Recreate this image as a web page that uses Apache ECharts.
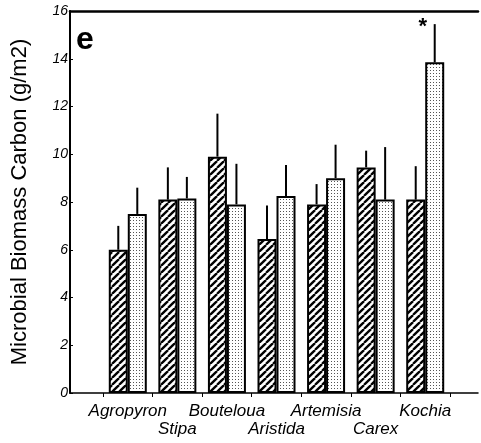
<!DOCTYPE html>
<html><head><meta charset="utf-8">
<script src="https://cdn.jsdelivr.net/npm/echarts@6/dist/echarts.min.js"></script>
<style>html,body{margin:0;padding:0;background:#fff}#c{width:481px;height:443px}</style>
</head><body><div id="c"></div>
<script>
const categories = ['Agropyron','Stipa','Bouteloua','Aristida','Artemisia','Carex','Kochia'];
const hatched    = [6.0, 8.1, 9.9, 6.45, 7.9, 9.45, 8.1];
const hatchedErr = [7.0, 9.45, 11.7, 7.85, 8.75, 10.15, 9.5];
const dotted     = [7.5, 8.15, 7.9, 8.25, 9.0, 8.1, 13.85];
const dottedErr  = [8.6, 9.05, 9.6, 9.55, 10.4, 10.3, 15.45];
const yTicks = {min: 0, max: 16, interval: 2};
const starMark = {series: 'dotted', index: 6, text: '*'};
const panelLabel = 'e';
const yName = 'Microbial Biomass Carbon (g/m2)';

function hatchPattern(){
  const s = 7, c = document.createElement('canvas');
  c.width = s; c.height = s;
  const g = c.getContext('2d');
  g.fillStyle = '#fff'; g.fillRect(0,0,s,s);
  g.strokeStyle = '#000'; g.lineWidth = 2.3;
  for (const o of [-s, 0, s]) { g.beginPath(); g.moveTo(o, s); g.lineTo(o + s, 0); g.stroke(); }
  return c;
}
function dotPattern(){
  const c = document.createElement('canvas');
  c.width = 3; c.height = 3;
  const g = c.getContext('2d');
  g.fillStyle = '#fff'; g.fillRect(0,0,3,3);
  g.fillStyle = '#555'; g.fillRect(1,1,1,1);
  return c;
}
const BW = 19;
const chart = echarts.init(document.getElementById('c'), null, {renderer:'canvas'});
const errData = [];
categories.forEach((c,i)=>{
  errData.push([i, hatchedErr[i], hatched[i], -1, '']);
  errData.push([i, dottedErr[i], dotted[i], 1, (starMark.series==='dotted' && starMark.index===i) ? starMark.text : '']);
});
const italic = {fontFamily:'Liberation Sans, Arial, sans-serif', fontStyle:'italic', color:'#000'};
chart.setOption({
  animation:false,
  backgroundColor:'#fff',
  grid:[
    {left:70, right:3, top:11, bottom:50},
    {left:103, right:31, top:11, bottom:50}
  ],
  xAxis:[
    {gridIndex:0, type:'value', min:0, max:1, position:'bottom',
     axisLine:{show:true, lineStyle:{color:'#000', width:1.5}}, axisTick:{show:false}, axisLabel:{show:false}, splitLine:{show:false}},
    {gridIndex:0, type:'value', min:0, max:1, position:'top',
     axisLine:{show:true, lineStyle:{color:'#000', width:2.5}}, axisTick:{show:false}, axisLabel:{show:false}, splitLine:{show:false}},
    {gridIndex:1, type:'category', data:categories, position:'bottom',
     axisLine:{show:false}, axisTick:{show:true, length:4, lineStyle:{color:'#000', width:1}},
     axisLabel:Object.assign({}, italic, {fontSize:17, margin:9, lineHeight:18, interval:0,
       formatter:(v,i)=> i%2 ? '\n'+v : v})}
  ],
  yAxis:[
    {gridIndex:0, type:'value', min:yTicks.min, max:yTicks.max, interval:yTicks.interval,
     name:yName, nameLocation:'middle', nameGap:39,
     nameTextStyle:{fontFamily:'Liberation Sans, Arial, sans-serif', fontSize:22, color:'#000'},
     axisLine:{show:true, lineStyle:{color:'#000', width:2}},
     axisTick:{show:true, inside:true, length:3, lineStyle:{color:'#000'}},
     axisLabel:Object.assign({}, italic, {fontSize:14, margin:2}),
     splitLine:{show:false}},
    {gridIndex:1, type:'value', min:yTicks.min, max:yTicks.max, show:false}
  ],
  series:[
    {type:'bar', name:'hatched', xAxisIndex:2, yAxisIndex:1, data:hatched, barWidth:BW, barGap:'0%',
     itemStyle:{color:{image:hatchPattern(), repeat:'repeat'}, borderColor:'#000', borderWidth:2}},
    {type:'bar', name:'dotted', xAxisIndex:2, yAxisIndex:1, data:dotted, barWidth:BW, barGap:'0%',
     itemStyle:{color:{image:dotPattern(), repeat:'repeat'}, borderColor:'#000', borderWidth:2}},
    {type:'custom', xAxisIndex:2, yAxisIndex:1, data:errData, encode:{x:0, y:1}, z:1,
     renderItem:(params, api)=>{
       const top = api.coord([api.value(0), api.value(1)]);
       const base = api.coord([api.value(0), api.value(2)]);
       const x = top[0] + api.value(3) * BW/2;
       const children = [{type:'line', shape:{x1:x, y1:base[1], x2:x, y2:top[1]}, style:{stroke:'#000', lineWidth:2}}];
       const t = api.value(4);
       if (t) children.push({type:'text', style:{text:t, x:x-12, y:top[1]-8, fill:'#000', font:'bold 22px Liberation Sans, Arial', align:'center', verticalAlign:'top'}});
       return {type:'group', children};
     }}
  ],
  graphic:[
    {type:'text', left:76, top:24, style:{text:panelLabel, font:'bold 32px Liberation Sans, Arial', fill:'#000'}}
  ]
});
</script></body></html>
